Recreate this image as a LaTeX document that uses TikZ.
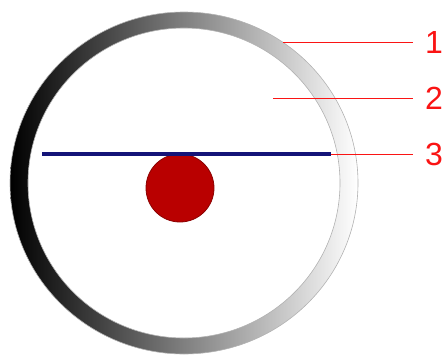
\documentclass[tikz,border=0pt]{standalone}
\usepackage{fontspec}
\setmainfont{Liberation Sans}
\definecolor{rojo}{RGB}{250,20,20}
\definecolor{rojooscuro}{RGB}{185,0,0}
\definecolor{azulmarino}{RGB}{20,20,120}
\usetikzlibrary{positioning}

\begin{document}
\begin{tikzpicture}[
  x=1pt, y=-1pt,
  etiqueta/.style={
    text=rojo, inner sep=0pt, anchor=west,
    font=\fontsize{32}{32}\selectfont},
  guia/.style={draw=rojo, line width=1pt}
]
  \useasboundingbox (0,0) rectangle (445,354);

  %% ── Anillo ────────────────────────────────────────────────
  \shade[left color=black, right color=white, even odd rule]
    (184,183) ellipse [x radius=174, y radius=171]
    (184,183) ellipse [x radius=156, y radius=155];
  \draw[gray!60, line width=0.6pt]
    (184,183) ellipse [x radius=174, y radius=171]
    (184,183) ellipse [x radius=156, y radius=155];

  %% ── Disco y barra ────────────────────────────────────────
  \node[circle, minimum size=68pt, inner sep=0pt,
        fill=rojooscuro, draw=rojooscuro!75!black, line width=0.8pt]
    (disco) at (180,188) {};
  \draw[azulmarino, line width=3.2pt]
    (42,154) coordinate (barraI) -- (331,154) coordinate (barraD);

  %% ── Etiquetas ─────────────────────────────────────────────
  \node[etiqueta] (uno) at (425,42) {1};
  \node[etiqueta] (dos) at (425,98) {2};
  \node[etiqueta] (tres) at (425,154) {3};

  \coordinate (p1) at (283,42);
  \coordinate (p2) at (273,98);

  \draw[guia] (p1) -- ([xshift=-12pt]uno.west);
  \draw[guia] (p2) -- ([xshift=-12pt]dos.west);
  \draw[guia] (barraD) -- ([xshift=-12pt]tres.west);

\end{tikzpicture}
\end{document}
